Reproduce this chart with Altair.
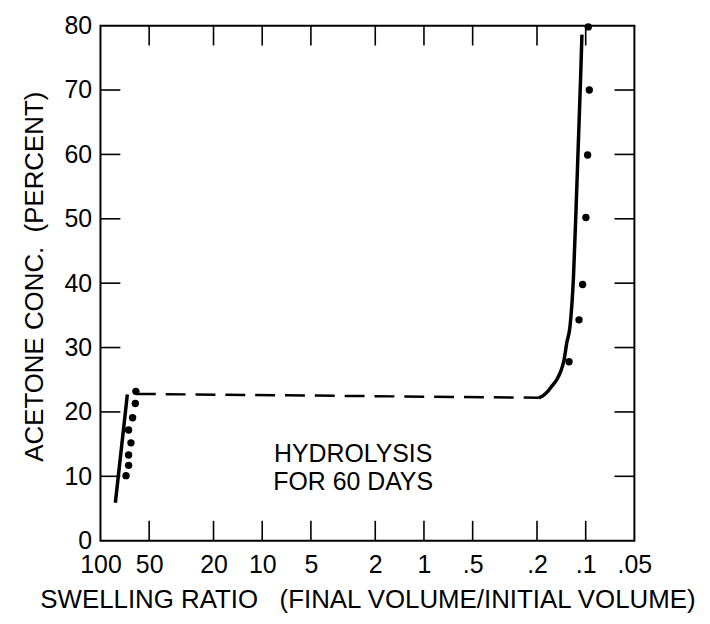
import altair as alt
import pandas as pd

# ---- data ----
# left branch (high swelling ratio)
left_line_x = [80.9, 68.2]
left_line_y = [5.9, 22.7]
left_pts_x = [60.4, 60.9, 63.3, 67.0, 64.8, 67.0, 67.0, 69.5]
left_pts_y = [23.2, 21.3, 19.1, 17.2, 15.2, 13.3, 11.7, 10.1]

# dashed plateau
dash_x = [60.4, 0.195]
dash_y = [22.8, 22.2]

# right branch (collapsed gel)
right_line_x = [0.195, 0.184, 0.170, 0.162, 0.151, 0.144, 0.136, 0.131, 0.125,
                0.119, 0.1148, 0.1111, 0.1075, 0.1055]
right_line_y = [22.2, 22.5, 23.3, 24.0, 25.0, 26.05, 28.1, 30.7, 33.3,
                41.0, 51.3, 61.6, 71.9, 78.6]
right_pts_x = [0.0964, 0.0950, 0.0973, 0.0997, 0.1045, 0.110, 0.1268]
right_pts_y = [79.8, 70.0, 59.9, 50.2, 39.8, 34.3, 27.8]

# axes
x_tick_values = [100, 50, 20, 10, 5, 2, 1, 0.5, 0.2, 0.1, 0.05]
x_inner_ticks = [50, 20, 10, 5, 2, 1, 0.5, 0.2, 0.1]
y_tick_values = [0, 10, 20, 30, 40, 50, 60, 70, 80]
y_inner_ticks = [10, 20, 30, 40, 50, 60, 70]

note_text = ["HYDROLYSIS", "FOR 60 DAYS"]
note_x = [2.74]
note_y = [13.4]

W, H = 537, 518
TL = 20
FONT = "Liberation Sans"

xscale = alt.Scale(type="log", domain=[0.05, 100], reverse=True, nice=False)
yscale = alt.Scale(domain=[0, 80], nice=False, zero=False)

x_title = "SWELLING RATIO\u00a0\u00a0\u00a0(FINAL VOLUME/INITIAL VOLUME)"
y_title = "ACETONE CONC.\u00a0\u00a0(PERCENT)"

xaxis = alt.Axis(
    values=x_tick_values,
    labelExpr="datum.value >= 1 ? format(datum.value, 'd') : replace(format(datum.value, '.2~f'), '0.', '.')",
    domain=False, ticks=False, grid=False, labelOverlap=False, labelFlush=False,
    labelFont=FONT, labelFontSize=25, labelColor="black", labelPadding=12,
    labelFontWeight="normal",
    title=x_title, titleFont=FONT, titleFontSize=26, titleFontWeight="normal",
    titleColor="black", titleY=67, titleBaseline="alphabetic",
)
yaxis = alt.Axis(
    values=y_tick_values,
    domain=False, ticks=False, grid=False, labelOverlap=False, labelFlush=False,
    labelFont=FONT, labelFontSize=25, labelColor="black", labelPadding=9,
    title=y_title, titleFont=FONT, titleFontSize=26, titleFontWeight="normal",
    titleColor="black", titleX=-58, titleY=252, titleBaseline="alphabetic",
)

df_left_line = pd.DataFrame({"x": left_line_x, "y": left_line_y, "i": range(len(left_line_x))})
df_left_pts = pd.DataFrame({"x": left_pts_x, "y": left_pts_y})
df_dash = pd.DataFrame({"x": dash_x, "y": dash_y, "i": range(len(dash_x))})
df_right_line = pd.DataFrame({"x": right_line_x, "y": right_line_y, "i": range(len(right_line_x))})
df_right_pts = pd.DataFrame({"x": right_pts_x, "y": right_pts_y})
df_note = pd.DataFrame({"x": note_x, "y": note_y, "t": ["\n".join(note_text)]})


def X():
    return alt.X("x:Q", scale=xscale, axis=xaxis)


def Y():
    return alt.Y("y:Q", scale=yscale, axis=yaxis)


left_line = alt.Chart(df_left_line).mark_line(color="black", strokeWidth=3.5).encode(
    x=X(), y=Y(), order="i:O"
)
left_pts = alt.Chart(df_left_pts).mark_circle(color="black", size=55, opacity=1).encode(
    x=X(), y=Y()
)
dash = alt.Chart(df_dash).mark_line(color="black", strokeWidth=2.5, strokeDash=[20, 10]).encode(
    x=X(), y=Y(), order="i:O"
)
right_line = alt.Chart(df_right_line).mark_line(
    color="black", strokeWidth=3.5, interpolate="monotone"
).encode(x=X(), y=Y(), order="i:O")
right_pts = alt.Chart(df_right_pts).mark_circle(color="black", size=55, opacity=1).encode(
    x=X(), y=Y()
)
note = alt.Chart(df_note).mark_text(
    font=FONT, fontSize=25, color="black", lineBreak="\n", lineHeight=28,
    align="center", baseline="middle"
).encode(x=X(), y=Y(), text="t:N")

df_xt = pd.DataFrame({"x": x_inner_ticks})
df_yt = pd.DataFrame({"y": y_inner_ticks})
tick_style = dict(color="black", strokeWidth=1.6)
bottom_ticks = alt.Chart(df_xt).mark_rule(**tick_style).encode(
    x=X(), y=alt.value(H - TL), y2=alt.value(H)
)
top_ticks = alt.Chart(df_xt).mark_rule(**tick_style).encode(
    x=X(), y=alt.value(0), y2=alt.value(TL)
)
left_ticks = alt.Chart(df_yt).mark_rule(**tick_style).encode(
    y=Y(), x=alt.value(0), x2=alt.value(TL)
)
right_ticks = alt.Chart(df_yt).mark_rule(**tick_style).encode(
    y=Y(), x=alt.value(W - TL), x2=alt.value(W)
)

chart = alt.layer(
    left_line, bottom_ticks, top_ticks, left_ticks, right_ticks,
    dash, left_pts, right_line, right_pts, note
).properties(
    width=W, height=H,
    autosize=alt.AutoSizeParams(type="none"),
    padding={"left": 93, "top": 16, "right": 68, "bottom": 74},
    background="white",
).configure_view(stroke="black", strokeWidth=2)

chart.save("out.html", embed_options={"renderer": "svg", "actions": False})
